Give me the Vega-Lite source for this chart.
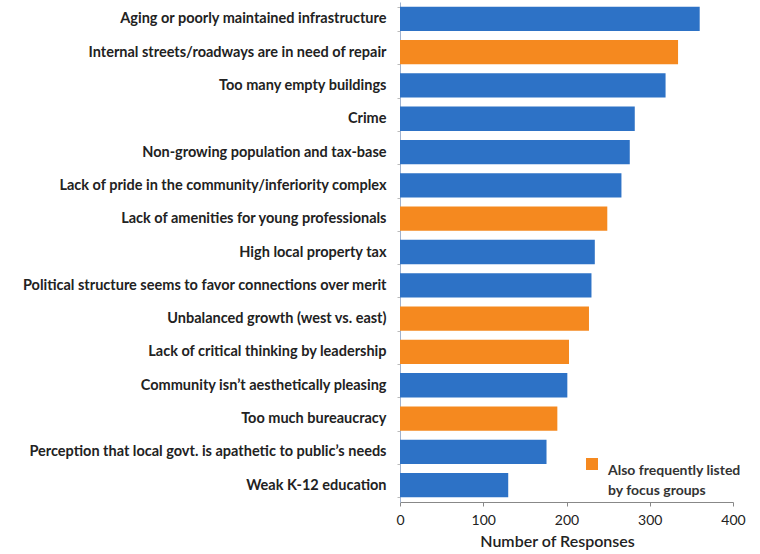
{
  "$schema": "https://vega.github.io/schema/vega-lite/v6.json",
  "width": 333,
  "height": 500,
  "autosize": "none",
  "padding": {"left": 400, "top": 2, "right": 27, "bottom": 52},
  "background": "white",
  "data": {
    "values": [
      {"issue": "Aging or poorly maintained infrastructure", "responses": 360, "group": "Other"},
      {"issue": "Internal streets/roadways are in need of repair", "responses": 334, "group": "Also frequently listed by focus groups"},
      {"issue": "Too many empty buildings", "responses": 319, "group": "Other"},
      {"issue": "Crime", "responses": 282, "group": "Other"},
      {"issue": "Non-growing population and tax-base", "responses": 276, "group": "Other"},
      {"issue": "Lack of pride in the community/inferiority complex", "responses": 266, "group": "Other"},
      {"issue": "Lack of amenities for young professionals", "responses": 249, "group": "Also frequently listed by focus groups"},
      {"issue": "High local property tax", "responses": 234, "group": "Other"},
      {"issue": "Political structure seems to favor connections over merit", "responses": 230, "group": "Other"},
      {"issue": "Unbalanced growth (west vs. east)", "responses": 227, "group": "Also frequently listed by focus groups"},
      {"issue": "Lack of critical thinking by leadership", "responses": 203, "group": "Also frequently listed by focus groups"},
      {"issue": "Community isn’t aesthetically pleasing", "responses": 201, "group": "Other"},
      {"issue": "Too much bureaucracy", "responses": 189, "group": "Also frequently listed by focus groups"},
      {"issue": "Perception that local govt. is apathetic to public’s needs", "responses": 176, "group": "Other"},
      {"issue": "Weak K-12 education", "responses": 130, "group": "Other"}
    ]
  },
  "mark": {"type": "bar"},
  "encoding": {
    "y": {
      "field": "issue",
      "type": "nominal",
      "sort": null,
      "scale": {"paddingInner": 0.27, "paddingOuter": 0.14},
      "axis": {
        "title": null,
        "labelFont": "Lato",
        "labelFontWeight": "bold",
        "labelFontSize": 14.5,
        "labelColor": "#222222",
        "labelPadding": 11,
        "labelLimit": 400,
        "domainColor": "#9fb3d0",
        "tickColor": "#bbbbbb",
        "tickSize": 3,
        "tickBand": "extent"
      }
    },
    "x": {
      "field": "responses",
      "type": "quantitative",
      "scale": {"domain": [0, 400]},
      "axis": {
        "title": "Number of Responses",
        "values": [0, 100, 200, 300, 400],
        "labelFlush": false,
        "labelFont": "Lato",
        "labelFontSize": 14,
        "labelColor": "#222222",
        "labelPadding": 7,
        "titleFont": "Lato",
        "titleFontSize": 16,
        "titleFontWeight": 600,
        "titleColor": "#222222",
        "titlePadding": 6,
        "titleX": 157,
        "grid": false,
        "domainColor": "#888888",
        "tickColor": "#888888",
        "tickSize": 4
      }
    },
    "color": {
      "field": "group",
      "type": "nominal",
      "scale": {
        "domain": ["Also frequently listed by focus groups", "Other"],
        "range": ["#f5891f", "#2d72c6"]
      },
      "legend": {
        "values": ["Also frequently listed by focus groups"],
        "title": null,
        "orient": "none",
        "legendX": 185,
        "legendY": 455,
        "symbolType": "square",
        "symbolSize": 144,
        "symbolStrokeWidth": 0,
        "symbolOpacity": 1,
        "labelFont": "Lato",
        "labelFontSize": 14,
        "labelFontWeight": "bold",
        "labelColor": "#333333",
        "labelLimit": 300,
        "labelBaseline": "top",
        "labelOffset": 9,
        "labelExpr": "['Also frequently listed', 'by focus groups']"
      }
    }
  },
  "config": {
    "view": {"stroke": null},
    "style": {"guide-label": {"lineHeight": 20}}
  }
}
